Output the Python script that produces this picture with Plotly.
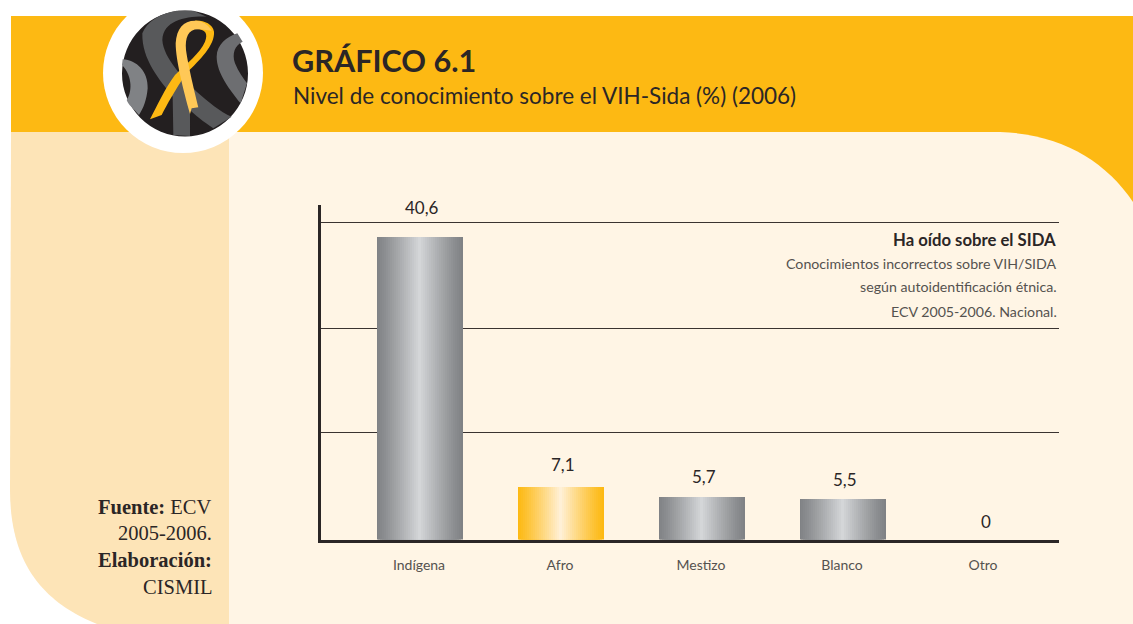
import plotly.graph_objects as go

categories = ["Indígena", "Afro", "Mestizo", "Blanco", "Otro"]
values = [40.6, 7.1, 5.7, 5.5, 0]
value_labels = ["40,6", "7,1", "5,7", "5,5", "0"]
grid_values = [14.3, 28.26, 42.49]

W, H = 1133, 624
ORANGE = "#FDB913"
CREAM = "#FFF5E5"
PANEL = "#FDE4B7"
INK = "#2B2626"
GREY_TEXT = "#55524F"


def lerp(a, b, t):
    return tuple(round(a[i] + (b[i] - a[i]) * t) for i in range(3))


def css(c):
    return f"rgb({c[0]},{c[1]},{c[2]})"


def px_path(cmds):
    """cmds: list of (letter, x, y, x, y...) in pixels -> paper-space SVG path"""
    out = []
    for c in cmds:
        if c[0] == "Z":
            out.append("Z")
            continue
        nums = []
        for i in range(1, len(c), 2):
            nums.append(f"{c[i] / W:.5f},{1 - c[i + 1] / H:.5f}")
        out.append(c[0] + " " + " ".join(nums))
    return " ".join(out)


def z(*a):
    """zoomed crop coordinates of the badge (3x) -> pixels"""
    return tuple([a[0]] + [v / 3 for v in a[1:]])


def path(cmds, fill):
    return dict(type="path", xref="paper", yref="paper", path=px_path(cmds),
                fillcolor=fill, line=dict(width=0), layer="below")


def circle(cx, cy, r, fill):
    return dict(type="circle", xref="paper", yref="paper",
                x0=(cx - r) / W, x1=(cx + r) / W, y0=1 - (cy + r) / H, y1=1 - (cy - r) / H,
                fillcolor=fill, line=dict(width=0), layer="below")


shapes = [
    # orange header, extends behind rounded corner
    path([("M", 11, 16), ("L", 1133, 16), ("L", 1133, 210), ("L", 11, 210), ("Z",)], ORANGE),
    # cream body
    path([("M", 11, 132), ("L", 1000, 132), ("C", 1060, 134, 1105, 160, 1133, 202),
          ("L", 1133, 624), ("L", 106, 624), ("C", 52, 606, 13, 575, 11, 500), ("Z",)], CREAM),
    # left panel
    path([("M", 11, 132), ("L", 229, 132), ("L", 229, 624), ("L", 97, 624),
          ("C", 50, 605, 10, 570, 10, 490), ("Z",)], PANEL),
    circle(183, 73, 80, "#FFFFFF"),
    circle(185, 73.5, 63, "#231F20"),
    # grey ribbons in badge
    path([z("M", 368, 178), z("C", 410, 180, 445, 215, 443, 265), z("C", 440, 300, 430, 325, 417, 345),
          z("C", 400, 325, 385, 315, 380, 300), z("C", 395, 280, 400, 230, 366, 195), ("Z",)], "#808285"),
    path([z("M", 427, 100), z("C", 440, 65, 480, 40, 530, 32), z("L", 580, 32), z("L", 620, 50),
          z("C", 560, 48, 490, 60, 487, 120), z("C", 490, 175, 555, 240, 590, 275),
          z("C", 625, 305, 660, 335, 695, 350), z("L", 640, 385), z("C", 610, 365, 585, 345, 570, 330),
          z("L", 570, 408), z("L", 520, 405), z("L", 518, 290), z("C", 480, 240, 425, 180, 427, 100), ("Z",)], "#58595B"),
    path([z("M", 650, 170), z("C", 650, 135, 680, 110, 712, 100), z("L", 728, 125),
          z("C", 705, 135, 695, 160, 705, 190), z("C", 715, 215, 730, 235, 741, 250),
          z("L", 722, 310), z("C", 690, 270, 650, 220, 650, 170), ("Z",)], "#6D6E71"),
    # gold ribbon, back band
    path([z("M", 450, 358), z("L", 485, 345), z("C", 500, 315, 525, 270, 560, 218),
          z("C", 600, 180, 645, 135, 642, 95), z("C", 638, 72, 610, 60, 585, 62),
          z("L", 590, 87), z("C", 615, 88, 625, 100, 615, 125), z("C", 600, 160, 560, 190, 525, 225),
          z("C", 495, 265, 470, 320, 450, 358), ("Z",)], "#FDB913"),
    # gold ribbon, front band
    path([z("M", 585, 62), z("C", 550, 62, 530, 85, 527, 130), z("C", 527, 180, 550, 270, 570, 342),
          z("L", 575, 325), z("L", 595, 322), z("C", 585, 280, 565, 200, 558, 150),
          z("C", 555, 110, 565, 85, 600, 88), z("L", 635, 92), z("C", 625, 72, 605, 62, 585, 62), ("Z",)], "#FFC857"),
]

fig = go.Figure()

BAR_W = 86 / 141
LAYERS = 22
palettes = {"grey": ((128, 130, 133), (212, 214, 216)), "gold": ((253, 185, 19), (255, 240, 214))}
for i in range(LAYERS):
    t = i / (LAYERS - 1)
    w = BAR_W * (1 - i / LAYERS)
    colors = [css(lerp(*palettes["gold" if c == "Afro" else "grey"], t ** 1.15)) for c in categories]
    fig.add_trace(go.Bar(x=categories, y=values, width=[w] * len(values),
                         marker=dict(color=colors, line=dict(width=0)),
                         showlegend=False, hoverinfo="skip"))

annotations = []
label_shift = {"Indígena": 30, "Afro": 22, "Mestizo": 21, "Blanco": 19, "Otro": 18}
for c, v, s in zip(categories, values, value_labels):
    annotations.append(dict(x=c, y=v, xref="x", yref="y", text=s, showarrow=False, yshift=label_shift[c], xshift=3,
                            font=dict(family="Lato", size=17, color=INK)))


def text(x, y, s, size, color=INK, family="Lato", anchor="left"):
    annotations.append(dict(x=x / W, y=1 - y / H, xref="paper", yref="paper", text=s, showarrow=False,
                            xanchor=anchor, yanchor="middle", font=dict(family=family, size=size, color=color)))


text(290, 61, "<b>GRÁFICO 6.1</b>", 30.6)
text(291, 95, "Nivel de conocimiento sobre el VIH-Sida (%) (2006)", 22.5)
text(1058, 240, "<b>Ha oído sobre el SIDA</b>", 16.7, anchor="right")
text(1059, 263, "Conocimientos incorrectos sobre VIH/SIDA", 14.2, GREY_TEXT, anchor="right")
text(1059, 287, "según autoidentificación étnica.", 14.2, GREY_TEXT, anchor="right")
text(1059, 311, "ECV 2005-2006. Nacional.", 14.2, GREY_TEXT, anchor="right")
SERIF = "Liberation Serif"
text(214, 507, "<b>Fuente:</b> ECV", 20.5, family=SERIF, anchor="right")
text(214, 533, "2005-2006.", 20.5, family=SERIF, anchor="right")
text(214, 560, "<b>Elaboración:</b>", 20.5, family=SERIF, anchor="right")
text(214, 587, "CISMIL", 20.5, family=SERIF, anchor="right")

AXIS_L, AXIS_R, AXIS_B, AXIS_T = 320.5, 1059, 539.5, 205
PX_PER_UNIT = 7.45
CENTER_0 = 419
fig.update_layout(
    width=W, height=H, autosize=False, barmode="overlay", bargap=0,
    margin=dict(l=0, r=0, t=0, b=0), paper_bgcolor="#FFFFFF", plot_bgcolor="rgba(0,0,0,0)",
    shapes=shapes, annotations=annotations, showlegend=False,
    xaxis=dict(domain=[AXIS_L / W, AXIS_R / W], type="category", categoryorder="array", categoryarray=categories,
               range=[(AXIS_L - CENTER_0) / 141, (AXIS_R - CENTER_0) / 141], showgrid=False, zeroline=False,
               showline=True, linecolor=INK, linewidth=3, ticks="outside", ticklen=11,
               tickcolor="rgba(0,0,0,0)", tickfont=dict(family="Lato", size=14, color=GREY_TEXT), fixedrange=True),
    yaxis=dict(domain=[1 - AXIS_B / H, 1 - AXIS_T / H], range=[0, (AXIS_B - AXIS_T) / PX_PER_UNIT],
               tickvals=grid_values, showticklabels=False,
               showgrid=True, gridcolor="#3A3330", gridwidth=1, zeroline=False,
               showline=True, linecolor=INK, linewidth=3, ticks="", fixedrange=True),
)

fig.write_html("out.html", config={"displayModeBar": False},
               post_script="document.body.style.margin='0';document.body.style.overflow='hidden';")
